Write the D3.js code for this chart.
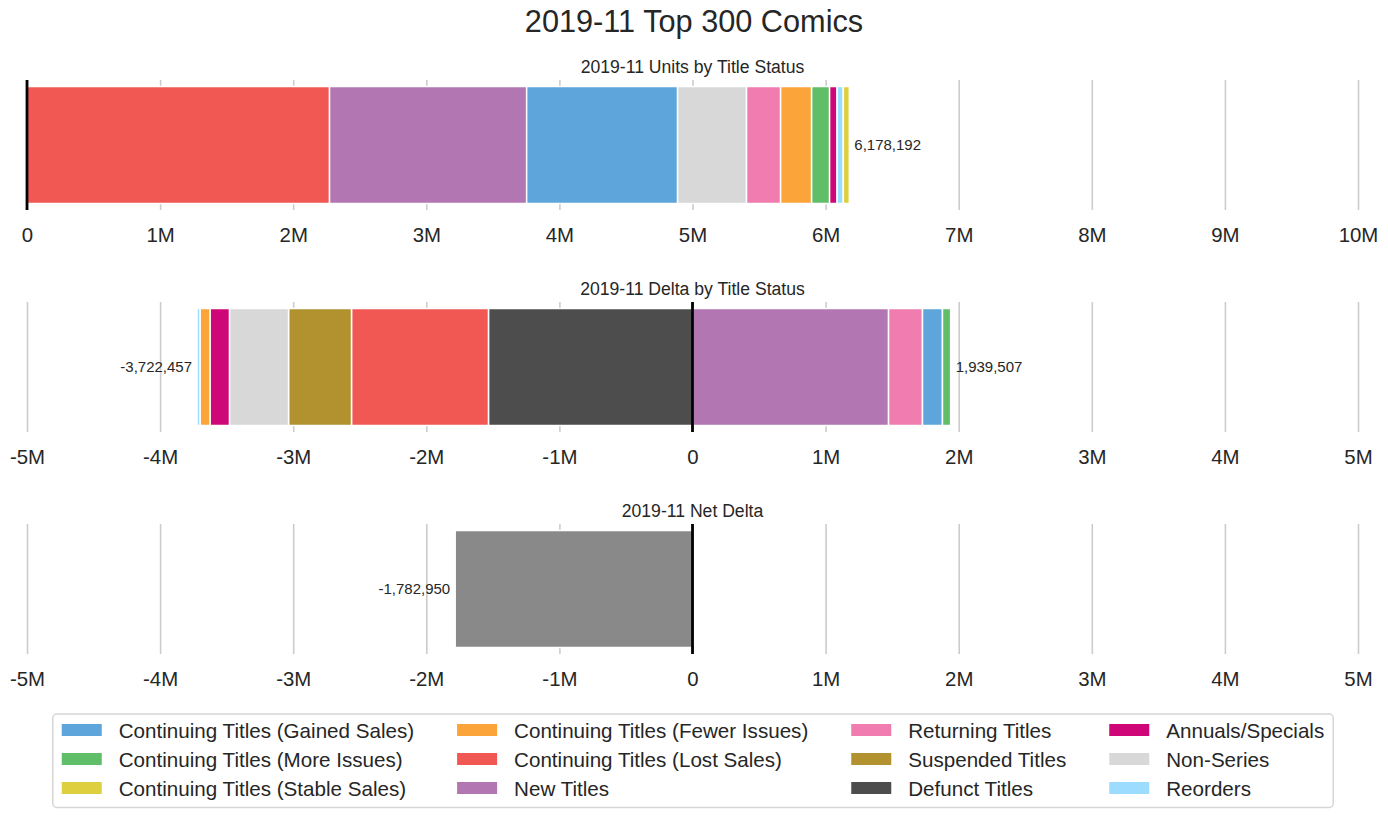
<!DOCTYPE html>
<html>
<head>
<meta charset="utf-8">
<script src="https://cdn.jsdelivr.net/npm/d3@7"></script>
<style>
  html, body { margin: 0; padding: 0; background: #ffffff; }
  svg { display: block; font-family: "Liberation Sans", Arial, sans-serif; }
</style>
</head>
<body>
<svg id="chart" width="1388" height="817"></svg>
<script>
// ---------------- DATA ----------------
const categories = [
  "Continuing Titles (Gained Sales)",
  "Continuing Titles (More Issues)",
  "Continuing Titles (Stable Sales)",
  "Continuing Titles (Fewer Issues)",
  "Continuing Titles (Lost Sales)",
  "New Titles",
  "Returning Titles",
  "Suspended Titles",
  "Defunct Titles",
  "Annuals/Specials",
  "Non-Series",
  "Reorders"
];
const categoryColors = [
  "#5DA5DA", "#60BD68", "#DECF3F", "#FAA43A", "#F15854", "#B276B2",
  "#F17CB0", "#B2912F", "#4D4D4D", "#CF0677", "#D8D8D8", "#9CDCFE"
];

// Units by title status (stack order left to right)
const unitsCategories = [
  "Continuing Titles (Lost Sales)", "New Titles", "Continuing Titles (Gained Sales)",
  "Non-Series", "Returning Titles", "Continuing Titles (Fewer Issues)",
  "Continuing Titles (More Issues)", "Annuals/Specials", "Reorders",
  "Continuing Titles (Stable Sales)"
];
const unitsValues = [2273000, 1481000, 1134000, 518000, 256000, 233000, 135000, 56000, 47000, 45192];

// Delta by title status: positives stacked right from 0, negatives stacked left from 0
const deltaPosCategories = [
  "New Titles", "Returning Titles", "Continuing Titles (Gained Sales)", "Continuing Titles (More Issues)"
];
const deltaPosValues = [1473000, 255000, 150000, 61507];
const deltaNegCategories = [
  "Defunct Titles", "Continuing Titles (Lost Sales)", "Suspended Titles", "Non-Series",
  "Annuals/Specials", "Continuing Titles (Fewer Issues)", "Reorders"
];
const deltaNegValues = [-1533000, -1029000, -473000, -444000, -146000, -75000, -22457];

const netDelta = [-1782950];
const netColor = "#898989";

const unitsTicks = [0, 1e6, 2e6, 3e6, 4e6, 5e6, 6e6, 7e6, 8e6, 9e6, 10e6];
const deltaTicks = [-5e6, -4e6, -3e6, -2e6, -1e6, 0, 1e6, 2e6, 3e6, 4e6, 5e6];

const suptitle = "2019-11 Top 300 Comics";
const panelTitles = ["2019-11 Units by Title Status", "2019-11 Delta by Title Status", "2019-11 Net Delta"];

// ---------------- DRAW ----------------
const svg = d3.select("#chart");
const textColor = "#262626";
const colorOf = d3.scaleOrdinal().domain(categories).range(categoryColors);
const fmt = d3.formatLocale({decimal: ".", thousands: ",", grouping: [3], currency: ["$", ""], minus: "-"}).format(",");
const tickFmt = d => d === 0 ? "0" : (d / 1e6) + "M";

svg.append("rect").attr("width", 1388).attr("height", 817).attr("fill", "#ffffff");

svg.append("text")
  .attr("x", 694).attr("y", 32)
  .attr("text-anchor", "middle")
  .attr("font-size", 30.7)
  .attr("fill", textColor)
  .text(suptitle);

const left = 27, right = 1358, panelH = 130;
const panelTops = [80, 302, 524];

function makePanel(i, domain, ticks) {
  const top = panelTops[i];
  const g = svg.append("g").attr("transform", `translate(0,${top})`);
  const x = d3.scaleLinear().domain(domain).range([left, right]);
  const y = d3.scaleBand().domain(["bar"]).range([0, panelH]).paddingInner(0.1).paddingOuter(0.05);

  // grid
  const grid = g.append("g").attr("class", "grid")
    .attr("transform", `translate(0,${panelH})`)
    .call(d3.axisBottom(x).tickValues(ticks).tickSize(-panelH).tickFormat(""));
  grid.select(".domain").remove();
  grid.selectAll("line").attr("stroke", "#cccccc").attr("stroke-width", 1.6);

  // tick labels
  const ax = g.append("g")
    .attr("transform", `translate(0,${panelH})`)
    .call(d3.axisBottom(x).tickValues(ticks).tickSize(0).tickPadding(0).tickFormat(tickFmt));
  ax.select(".domain").remove();
  ax.selectAll("text")
    .attr("y", 32).attr("dy", null)
    .attr("font-size", 20.4)
    .attr("font-family", "'Liberation Sans', Arial, sans-serif")
    .attr("fill", textColor);

  // panel title
  svg.append("text")
    .attr("x", (left + right) / 2).attr("y", top - 7)
    .attr("text-anchor", "middle")
    .attr("font-size", 17.6)
    .attr("fill", textColor)
    .text(panelTitles[i]);

  return {g, x, y};
}

function drawStack(p, cats, vals, fixedColor) {
  let acc = 0;
  const segs = vals.map((v, k) => {
    const s = {cat: cats ? cats[k] : null, x0: acc, x1: acc + v};
    acc += v;
    return s;
  });
  p.g.selectAll(null).data(segs).enter().append("rect")
    .attr("x", d => Math.min(p.x(d.x0), p.x(d.x1)))
    .attr("width", d => Math.abs(p.x(d.x1) - p.x(d.x0)))
    .attr("y", p.y("bar"))
    .attr("height", p.y.bandwidth())
    .attr("fill", d => fixedColor || colorOf(d.cat))
    .attr("stroke", "#ffffff")
    .attr("stroke-width", 1.5);
  return acc;
}

function valueLabel(p, total) {
  const cy = p.y("bar") + p.y.bandwidth() / 2;
  const pos = total >= 0;
  p.g.append("text")
    .attr("x", p.x(total) + (pos ? 5 : -5))
    .attr("y", cy + 5.4)
    .attr("text-anchor", pos ? "start" : "end")
    .attr("font-size", 15)
    .attr("fill", textColor)
    .text(fmt(total));
}

function zeroLine(p) {
  p.g.append("line")
    .attr("x1", p.x(0)).attr("x2", p.x(0))
    .attr("y1", 0).attr("y2", panelH)
    .attr("stroke", "#000000").attr("stroke-width", 2.8);
}

// Panel 1: units
const p1 = makePanel(0, [0, 10e6], unitsTicks);
const unitsTotal = drawStack(p1, unitsCategories, unitsValues);
valueLabel(p1, unitsTotal);
zeroLine(p1);

// Panel 2: delta
const p2 = makePanel(1, [-5e6, 5e6], deltaTicks);
const posTotal = drawStack(p2, deltaPosCategories, deltaPosValues);
const negTotal = drawStack(p2, deltaNegCategories, deltaNegValues);
valueLabel(p2, posTotal);
valueLabel(p2, negTotal);
zeroLine(p2);

// Panel 3: net
const p3 = makePanel(2, [-5e6, 5e6], deltaTicks);
const netTotal = drawStack(p3, null, netDelta, netColor);
valueLabel(p3, netTotal);
zeroLine(p3);

// ---------------- LEGEND ----------------
const nRows = 3, nCols = 4;
const legendTop = 714, legendBottom = 807.5;
const rowCenters = [730, 759, 788];
const legendFont = 20.6;
const swW = 40, swH = 12, swGap = 17, colGap = 43, pad = 9;
const lg = svg.append("g");
const border = lg.append("rect");
const items = lg.append("g");

// measure texts
const widths = categories.map(c => {
  const t = items.append("text").attr("font-size", legendFont).text(c);
  const w = t.node().getComputedTextLength();
  t.remove();
  return w;
});
const colWidths = d3.range(nCols).map(ci =>
  d3.max(d3.range(nRows).map(ri => widths[ci * nRows + ri] || 0)));
const totalW = pad * 2 + nCols * (swW + swGap) + d3.sum(colWidths) + (nCols - 1) * colGap;
const legendLeft = 693 - totalW / 2;

let cx = legendLeft + pad;
for (let ci = 0; ci < nCols; ci++) {
  for (let ri = 0; ri < nRows; ri++) {
    const idx = ci * nRows + ri;
    if (idx >= categories.length) continue;
    const cyy = rowCenters[ri];
    items.append("rect")
      .attr("x", cx).attr("y", cyy - swH / 2)
      .attr("width", swW).attr("height", swH)
      .attr("fill", colorOf(categories[idx]));
    items.append("text")
      .attr("x", cx + swW + swGap).attr("y", cyy + 7.5)
      .attr("font-size", legendFont)
      .attr("fill", textColor)
      .text(categories[idx]);
  }
  cx += swW + swGap + colWidths[ci] + colGap;
}
border
  .attr("x", legendLeft).attr("y", legendTop)
  .attr("width", totalW).attr("height", legendBottom - legendTop)
  .attr("rx", 4).attr("ry", 4)
  .attr("fill", "#ffffff")
  .attr("stroke", "#d6d6d6").attr("stroke-width", 1.5);
</script>
</body>
</html>
